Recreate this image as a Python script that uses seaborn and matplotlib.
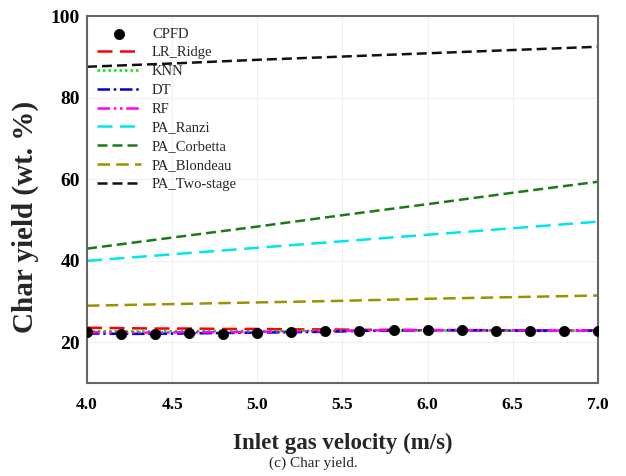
import numpy as np
import pandas as pd
import matplotlib
matplotlib.use("Agg")
import matplotlib.pyplot as plt
import seaborn as sns

x = [4.0, 4.2, 4.4, 4.6, 4.8, 5.0, 5.2, 5.4, 5.6, 5.8, 6.0, 6.2, 6.4, 6.6, 6.8, 7.0]
cpfd = [22.5, 22.0, 22.0, 22.3, 22.1, 22.3, 22.5, 22.8, 22.9, 23.0, 23.1, 23.0, 22.9, 22.9, 22.8, 22.7]
lr_ridge = [23.6, 23.5, 23.4, 23.4, 23.3, 23.3, 23.2, 23.2, 23.1, 23.1, 23.0, 23.0, 23.0, 22.9, 22.9, 22.9]
knn = [22.8, 22.7, 22.7, 22.8, 22.8, 22.8, 22.8, 22.9, 22.9, 22.9, 22.9, 22.9, 22.9, 22.8, 22.8, 22.8]
dt = [22.2, 22.1, 22.1, 22.2, 22.3, 22.4, 22.5, 22.6, 22.8, 22.9, 23.0, 23.0, 22.9, 22.9, 22.9, 22.9]
rf = [22.5, 22.4, 22.4, 22.5, 22.5, 22.6, 22.7, 22.8, 22.9, 23.0, 23.0, 23.0, 23.0, 22.9, 22.9, 22.9]
x_pa = [4.0, 4.5, 5.0, 5.5, 6.0, 6.5, 7.0]
pa_ranzi = [40.0, 41.6, 43.2, 44.8, 46.4, 48.0, 49.6]
pa_corbetta = [43.0, 45.7, 48.4, 51.2, 53.9, 56.7, 59.4]
pa_blondeau = [29.0, 29.4, 29.8, 30.2, 30.7, 31.1, 31.5]
pa_two_stage = [87.6, 88.4, 89.3, 90.1, 90.9, 91.7, 92.5]
xtick_vals = [4.0, 4.5, 5.0, 5.5, 6.0, 6.5, 7.0]
ytick_vals = [20, 40, 60, 80, 100]

sns.set_theme(style="white")
plt.rcParams['font.family'] = ['Liberation Serif', 'DejaVu Serif']

fig = plt.figure(figsize=(6.26, 4.76), dpi=100)
ax = fig.add_axes([0.139, 0.195, 0.816, 0.771])

series = [
    ("LR_Ridge", x, lr_ridge, "#ff0000", (0, (6, 3))),
    ("KNN", x, knn, "#00ee00", (0, (1, 1.2))),
    ("DT", x, dt, "#0000cc", (0, (5, 1.5, 1, 1.5))),
    ("RF", x, rf, "#ff00ff", (0, (5, 1.5, 1, 1.5, 1, 1.5))),
    ("PA_Ranzi", x_pa, pa_ranzi, "#00e5ee", (0, (6, 3))),
    ("PA_Corbetta", x_pa, pa_corbetta, "#1a7a1a", (0, (4, 2))),
    ("PA_Blondeau", x_pa, pa_blondeau, "#9a9200", (0, (5, 2.5))),
    ("PA_Two-stage", x_pa, pa_two_stage, "#111111", (0, (4, 2))),
]

sns.scatterplot(x=x, y=cpfd, ax=ax, color="black", s=55, edgecolor="black",
                linewidth=0.5, label="CPFD", zorder=5)
for name, xs, ys, col, ls in series:
    sns.lineplot(x=xs, y=ys, ax=ax, color=col, linestyle=ls, linewidth=1.8,
                 label=name)

ax.set_xlim(4.0, 7.0)
ax.set_ylim(10, 100)
ax.set_xticks(xtick_vals)
ax.set_xticklabels([f"{v:.1f}" for v in xtick_vals])
ax.set_yticks(ytick_vals)
ax.grid(True, color="#f0f0f0", linewidth=0.8)
ax.set_axisbelow(True)
for sp in ax.spines.values():
    sp.set_color("#666666")
    sp.set_linewidth(1.5)
ax.tick_params(direction="in", length=4, width=1, colors="#666666",
               labelcolor="black")
ax.tick_params(axis="x", labelsize=12.5, pad=10)
ax.tick_params(axis="y", labelsize=14, pad=5)
for lab in ax.get_xticklabels() + ax.get_yticklabels():
    lab.set_fontweight("bold")

ax.set_xlabel("Inlet gas velocity (m/s)", fontsize=16.5, fontweight="bold", labelpad=14)
ax.set_ylabel("Char yield (wt. %)", fontsize=21, fontweight="bold")
ax.yaxis.set_label_coords(-0.094, 0.452)

leg = ax.legend(loc="upper left", frameon=False, fontsize=10.5, handlelength=3.0,
                labelspacing=0.38, borderaxespad=0.3, handletextpad=0.75,
                bbox_to_anchor=(0.0, 0.997))

fig.text(0.5, 0.012, "(c) Char yield.", ha="center", va="bottom", fontsize=11)

fig.savefig("out.png", dpi=100)
